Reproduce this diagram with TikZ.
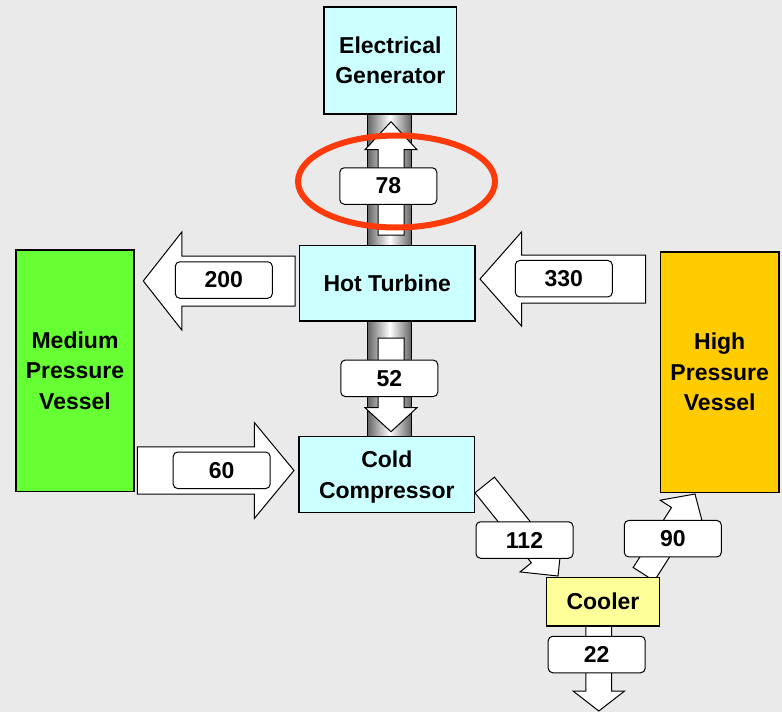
\documentclass[tikz,border=0pt]{standalone}
\usepackage{fontspec}
\setmainfont{Liberation Sans}
\usetikzlibrary{calc}
\definecolor{bgc}{HTML}{EAEAEA}
\definecolor{cyanbox}{HTML}{CCFFFF}
\definecolor{greenbox}{HTML}{66FF33}
\definecolor{orangebox}{HTML}{FFCC00}
\definecolor{yellowbox}{HTML}{FFFF99}
\definecolor{ringred}{HTML}{FF3A0A}
\newcommand\barrow[5]{%
  \coordinate (bac) at ($(#2)!#5!(#1)$);
  \draw[flowarrow]
    ($(#1)!#3!90:(#2)$) -- ($(bac)!#3!90:(#2)$) -- ($(bac)!#4!90:(#2)$) --
    (#2) --
    ($(bac)!#4!-90:(#2)$) -- ($(bac)!#3!-90:(#2)$) -- ($(#1)!#3!-90:(#2)$) -- cycle;}
\begin{document}
\begin{tikzpicture}[x=1pt,y=-1pt,
  txt/.style={font=\bfseries\fontsize{23}{30.5}\selectfont, align=center},
  unit/.style={txt, draw=black, line width=1.2pt, inner sep=0pt},
  lbl/.style={font=\bfseries\fontsize{23}{26}\selectfont, draw=black, line width=1pt, fill=white,
    rounded corners=4.5pt, minimum width=97pt, minimum height=36.5pt, inner sep=0pt},
  flowarrow/.style={draw=black, line width=1pt, fill=white, line join=miter},
  ring/.style={draw=ringred, line width=6pt}]
\useasboundingbox (0,0) rectangle (782,712);
\fill[bgc] (0,0) rectangle (782,712);
% shaft
\shade[left color=black!60, right color=black!62, middle color=white] (367.7,113) rectangle (411.7,437);
\draw[line width=0.8pt] (367.7,113) rectangle (411.7,437);
% arrow end points
\coordinate (a78s) at (391,235);  \coordinate (a78e) at (391,121.7);
\coordinate (a52s) at (391,338);  \coordinate (a52e) at (391,431.7);
\coordinate (a200s) at (295,281); \coordinate (a200e) at (143.3,281);
\coordinate (a330s) at (645.7,279); \coordinate (a330e) at (480,279);
\coordinate (a60s) at (137.3,470.5); \coordinate (a60e) at (294,470.5);
\coordinate (a112s) at (484.7,485); \coordinate (a112e) at (558,576);
\coordinate (a90s) at (643.7,574.2); \coordinate (a90e) at (695,494);
\coordinate (a22s) at (598.8,615); \coordinate (a22e) at (598.8,711);
\barrow{a78s}{a78e}{13pt}{26pt}{28pt}
\barrow{a52s}{a52e}{13pt}{26pt}{24pt}
\barrow{a200s}{a200e}{25pt}{49pt}{38.5pt}
\barrow{a330s}{a330e}{24pt}{47pt}{41.5pt}
\barrow{a60s}{a60e}{23.7pt}{48pt}{39.7pt}
\barrow{a112s}{a112e}{12.5pt}{27pt}{27pt}
\barrow{a90s}{a90e}{12.5pt}{26pt}{24pt}
\barrow{a22s}{a22e}{12.9pt}{25.8pt}{20pt}
% quantity labels
\node[lbl] (l78) at (388.3,186) {78};
\node[lbl] (l52) at (389.3,378.3) {52};
\node[lbl] (l200) at (223.8,280) {200};
\node[lbl] (l330) at (563.8,278.7) {330};
\node[lbl] (l60) at (221.7,470.3) {60};
\node[lbl] (l112) at (524.5,540) {112};
\node[lbl] (l90) at (672.8,538.7) {90};
\node[lbl] (l22) at (596.7,654.5) {22};
% units
\node[unit, fill=cyanbox, minimum width=132.7pt, minimum height=107pt] (gen) at (390.3,60.5) {Electrical\\Generator};
\node[unit, fill=cyanbox, minimum width=175.5pt, minimum height=75.5pt] (turb) at (387.2,283.2) {Hot Turbine};
\node[unit, fill=cyanbox, minimum width=175.5pt, minimum height=75.6pt] (comp) at (386.8,474.5) {};
\node[txt] (comptxt) at (386.8,477) {Cold\\Compressor};
\node[unit, fill=greenbox, minimum width=118pt, minimum height=241.5pt] (mpv) at (75,370.7) {Medium\\Pressure\\Vessel};
\node[unit, fill=orangebox, minimum width=118.5pt, minimum height=240.5pt] (hpv) at (719.7,372.2) {High\\Pressure\\Vessel};
\node[unit, fill=yellowbox, minimum width=112.6pt, minimum height=48.7pt] (cool) at (603,601.7) {Cooler};
% highlight ring
\draw[ring] (396.5,181.5) ellipse [x radius=98.5pt, y radius=46pt];
\end{tikzpicture}
\end{document}
